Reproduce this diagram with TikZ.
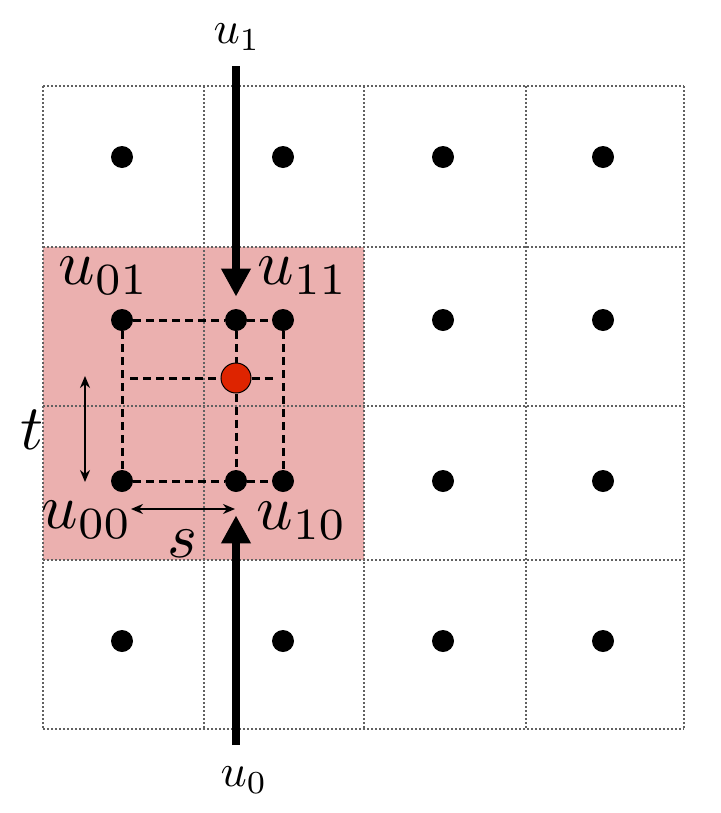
\documentclass[tikz,border=0pt]{standalone}
\usepackage{amsmath,amssymb}
\usepackage{tikz}
\usetikzlibrary{arrows.meta}
\definecolor{cellpink}{RGB}{235,176,175}
\definecolor{hitred}{RGB}{222,36,0}
\newcommand{\biglbl}[1]{\scalebox{3.2}{$#1$}}
\newcommand{\midlbl}[1]{\scalebox{2.3}{$#1$}}
\begin{document}
\begin{tikzpicture}[x=0.5bp,y=-0.5bp,
gline/.style={draw=black!62,line width=1.3bp,dash pattern=on 1.1bp off 0.9bp},
gdot/.style={circle,fill=black,inner sep=0pt,minimum size=11bp},
hitdot/.style={circle,fill=hitred,draw=black,line width=0.5bp,inner sep=0pt,minimum size=15bp},
dline/.style={line width=1.5bp,dash pattern=on 4bp off 2.5bp},
bigarr/.style={line width=4bp,-{Triangle[width=14bp,length=14bp]}},
gap/.style={line width=1.2bp,{Stealth[length=6bp,width=5bp]}-{Stealth[length=6bp,width=5bp]}},
lbl/.style={inner sep=0pt}]
\useasboundingbox (0,0) rectangle (721,813);
\fill[cellpink] (43,247) rectangle (364,560);
\foreach \x in {43,204,364,526,684}{\draw[gline] (\x,86)--(\x,729);}
\foreach \y in {86,247,406,560,729}{\draw[gline] (43,\y)--(684,\y);}
\foreach \x [count=\i from 0] in {122,283,443,603}{\foreach \y [count=\j from 0] in {641,481,320,157}{\node[gdot] (g\i\j) at (\x,\y) {};}}
\node[gdot] (it) at (236,320) {};\node[gdot] (ib) at (236,481) {};\node[hitdot] (hit) at (236,378) {};
\coordinate (hl) at (130,378);\coordinate (hr) at (274,378);
\draw[dline] (g02)--(it)--(g12);\draw[dline] (g01)--(ib)--(g11);\draw[dline] (g02)--(g01);\draw[dline] (g12)--(g11);
\draw[dline] (it)--(hit)--(ib);\draw[dline] (hl)--(hit)--(hr);
\coordinate (in1) at (236,66);\coordinate (in0) at (236,745);
\draw[bigarr,shorten >=6bp] (in1)--(it);\draw[bigarr,shorten >=11.5bp] (in0)--(ib);
\coordinate (ta) at (85,376);\coordinate (tb) at (85,482);\coordinate (sa) at (131,509);\coordinate (sb) at (235,509);
\draw[gap] (ta)--(tb);\draw[gap] (sa)--(sb);
\node[lbl] (l01) at (104,276) {\biglbl{u_{01}}};\node[lbl] (l11) at (303,276) {\biglbl{u_{11}}};
\node[lbl] (l00) at (87,520) {\biglbl{u_{00}}};\node[lbl] (l10) at (302,521) {\biglbl{u_{10}}};
\node[lbl] (lt) at (32,430) {\biglbl{t}};\node[lbl] (ls) at (182,544) {\biglbl{s}};
\node[lbl] (lu1) at (237,37) {\midlbl{u_1}};\node[lbl] (lu0) at (244,780) {\midlbl{u_0}};
\end{tikzpicture}
\end{document}
